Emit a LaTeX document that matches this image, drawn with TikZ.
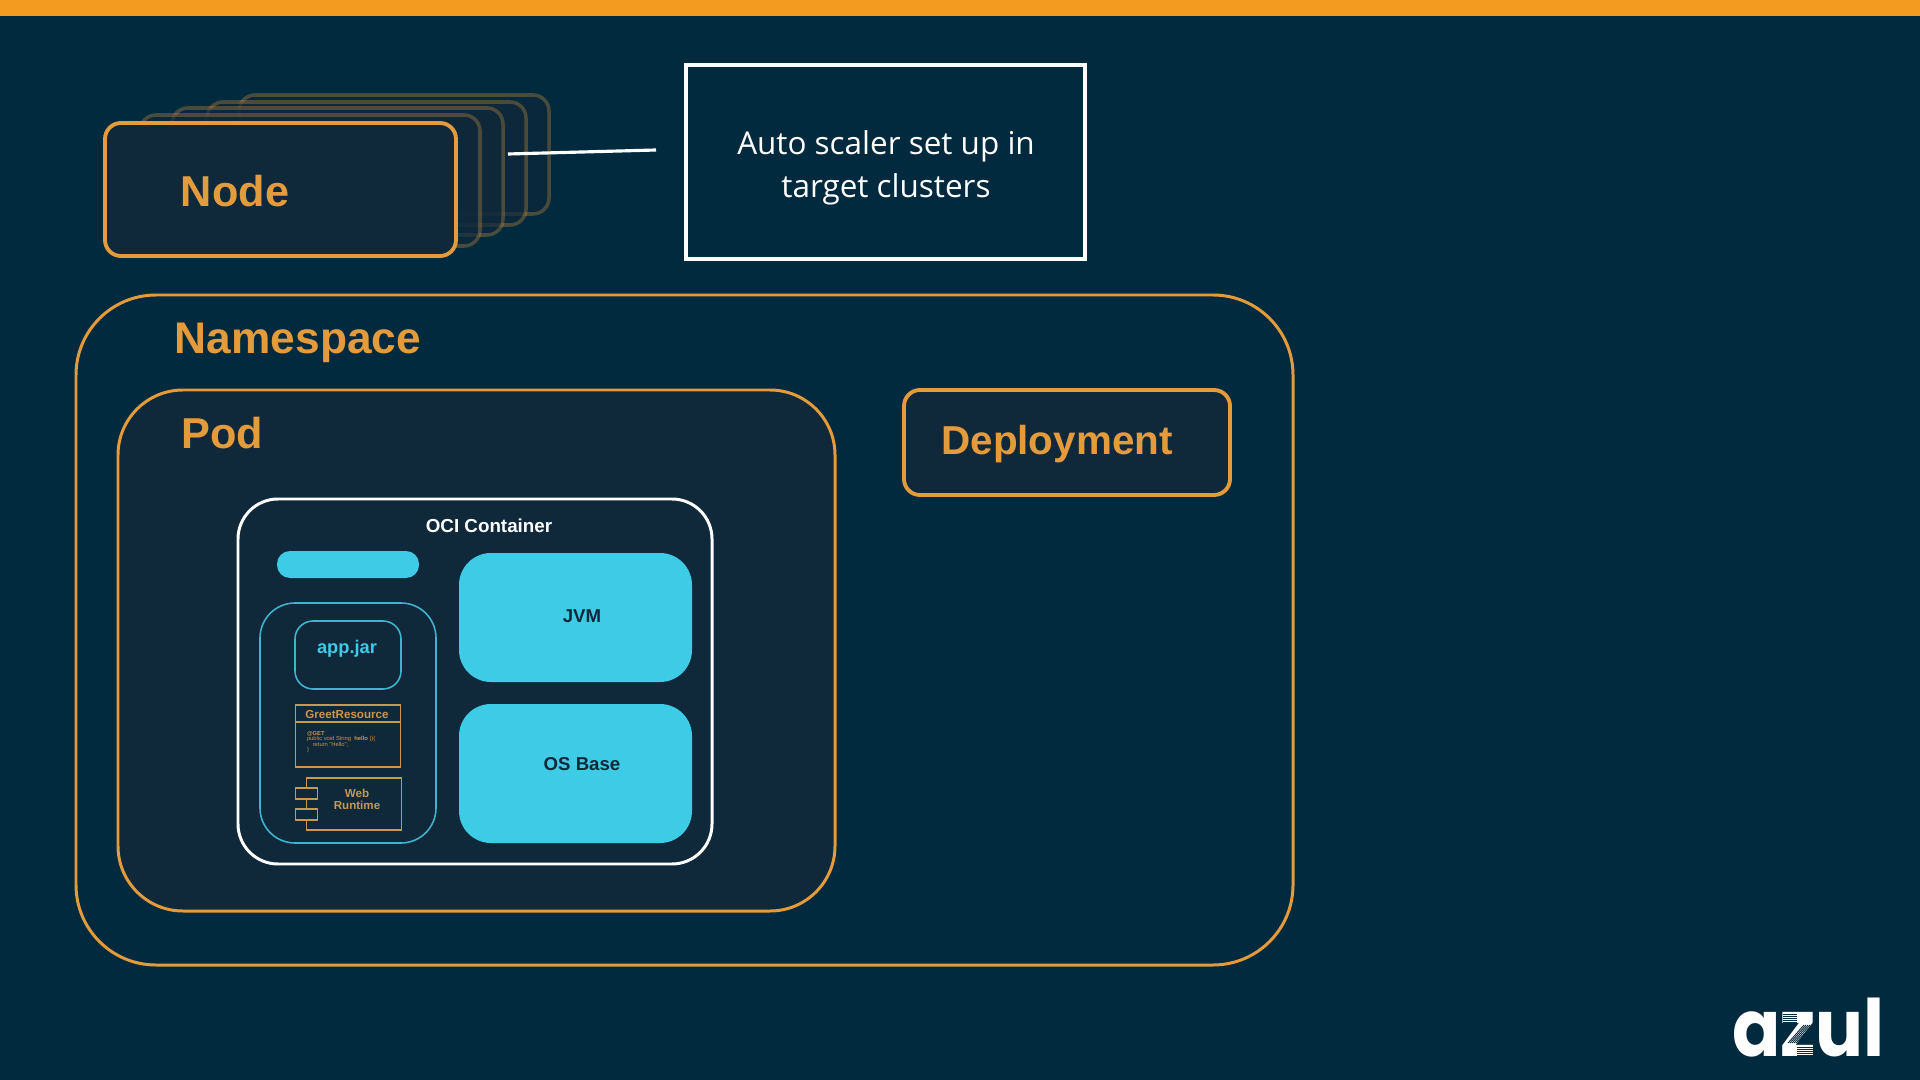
\documentclass[tikz,border=0pt]{standalone}
\usepackage{fontspec}
\usepackage{xcolor}
\setmainfont{Liberation Sans}
\newfontfamily\scalerfont{Open Sans}
\newfontfamily\logofont{Poppins}
\usetikzlibrary{positioning}
\definecolor{bgblue}{HTML}{022A3E}
\definecolor{podblue}{HTML}{0F283A}
\definecolor{barorange}{HTML}{F29B20}
\definecolor{azulorange}{HTML}{E39B3C}
\definecolor{thinorange}{HTML}{C9974F}
\definecolor{azulcyan}{HTML}{3DCBE6}
\definecolor{jarcyan}{HTML}{3FB4CE}

\begin{document}
\begin{tikzpicture}[
    outer sep=0pt,
    inner sep=0pt,
    nodebox/.style={
        rectangle,
        draw=azulorange,
        fill=podblue,
        line width=1.1pt,
        rounded corners=0.16cm
    },
    stackbox/.style={
        rectangle,
        draw=azulorange,
        draw opacity=0.3,
        fill=podblue,
        fill opacity=0.65,
        line width=1pt,
        rounded corners=0.16cm
    },
    scalerbox/.style={
        rectangle,
        draw=white,
        line width=0.9pt,
        minimum width=3.99cm,
        minimum height=1.94cm
    },
    nsbox/.style={
        rectangle,
        draw=azulorange,
        line width=0.85pt,
        rounded corners=0.8cm
    },
    whitebox/.style={
        rectangle,
        draw=white,
        fill=podblue,
        line width=0.85pt,
        rounded corners=0.4cm
    },
    cyanbox/.style={
        rectangle,
        fill=azulcyan,
        minimum width=2.33cm,
        rounded corners=0.32cm
    },
    cyanlabel/.style={text=podblue, font=\bfseries\fontsize{5.3}{6.4}\selectfont},
    jarbox/.style={
        rectangle,
        draw=jarcyan,
        line width=0.45pt
    },
    umlbox/.style={
        rectangle,
        draw=thinorange,
        line width=0.45pt
    },
    umllabel/.style={
        align=center,
        text=thinorange,
        font=\bfseries\fontsize{3.3}{3.45}\selectfont
    },
    bigtitle/.style={text=azulorange, font=\bfseries\fontsize{12.3}{14}\selectfont},
    arrow/.style={draw=white, line width=0.9pt},
    stripe/.style={draw=bgblue, line width=0.25pt}
]
    \useasboundingbox (0,0) rectangle (19.2,-10.8);
    \fill[bgblue] (0,0) rectangle (19.2,-10.8);
    \fill[barorange] (0,0) rectangle (19.2,-0.16);

    % Node stack
    \node[stackbox, minimum width=3.1cm, minimum height=1.19cm, anchor=north west] (stack4) at (2.39,-0.95) {};
    \node[stackbox, minimum width=3.19cm, minimum height=1.23cm, anchor=north west] (stack3) at (2.07,-1.02) {};
    \node[stackbox, minimum width=3.31cm, minimum height=1.27cm, anchor=north west] (stack2) at (1.72,-1.08) {};
    \node[stackbox, minimum width=3.4cm, minimum height=1.31cm, anchor=north west] (stack1) at (1.4,-1.15) {};
    \node[nodebox, minimum width=3.51cm, minimum height=1.33cm, anchor=north west] (node) at (1.05,-1.23) {};
    \node[bigtitle] (nodelabel) at (2.35,-1.91) {Node};

    % Auto scaler
    \node[scalerbox, anchor=north west] (scaler) at (6.86,-0.65) {};
    \node[align=center, text=white, font=\scalerfont\fontsize{8.95}{12.2}\selectfont] (scalerlabel)
        at (8.86,-1.68) {Auto scaler set up in\\target clusters};
    \coordinate (linestart) at (5.08,-1.54);
    \coordinate (lineend) at (6.56,-1.5);
    \draw[arrow] (linestart) -- (lineend);

    % Namespace
    \node[nsbox, minimum width=12.17cm, minimum height=6.7cm, anchor=north west] (namespace) at (0.76,-2.95) {};
    \node[bigtitle, font=\bfseries\fontsize{12.6}{14}\selectfont] (nslabel) at (2.98,-3.43) {Namespace};

    % Pod
    \node[nsbox, fill=podblue, rounded corners=0.65cm, minimum width=7.17cm, minimum height=5.21cm,
        below right=0.95cm and 0.42cm of namespace.north west] (pod) {};
    \node[bigtitle] (podlabel) at (2.22,-4.33) {Pod};

    % Deployment
    \node[nodebox, minimum width=3.26cm, minimum height=1.05cm,
        below right=0cm and 0.69cm of pod.north east] (deployment) {};
    \node[bigtitle, font=\bfseries\fontsize{11.5}{14}\selectfont] (deploylabel) at (10.57,-4.44) {Deployment};

    % OCI container
    \node[whitebox, minimum width=4.74cm, minimum height=3.65cm,
        below right=1.09cm and 1.2cm of pod.north west] (oci) {};
    \node[text=white, font=\bfseries\fontsize{5.35}{6.5}\selectfont] (ocilabel) at (4.89,-5.26) {OCI Container};

    % Cyan blocks
    \node[cyanbox, minimum height=1.29cm, below right=0.54cm and 2.21cm of oci.north west] (jvm) {};
    \node[cyanbox, minimum height=1.39cm, below=0.22cm of jvm] (osbase) {};
    \node[cyanlabel] (jvmlabel) at (5.82,-6.16) {JVM};
    \node[cyanlabel] (oslabel) at (5.82,-7.64) {OS Base};
    \node[rectangle, fill=azulcyan, minimum width=1.42cm, minimum height=0.27cm, rounded corners=0.13cm,
        below right=0.52cm and 0.39cm of oci.north west] (pill) {};

    % App jar
    \node[jarbox, rounded corners=0.35cm, minimum width=1.76cm, minimum height=2.4cm,
        below right=1.04cm and 0.22cm of oci.north west] (jarouter) {};
    \node[jarbox, rounded corners=0.18cm, minimum width=1.06cm, minimum height=0.68cm,
        below right=0.18cm and 0.35cm of jarouter.north west] (jarinner) {};
    \node[text=azulcyan, font=\bfseries\fontsize{5.2}{6}\selectfont] (jarlabel) at (3.47,-6.49) {app.jar};

    % Greet resource
    \node[umlbox, minimum width=1.05cm, minimum height=0.17cm,
        below=0.16cm of jarinner] (greethead) {};
    \node[umllabel] (greetlabel) at (3.47,-7.145) {GreetResource};
    \node[umlbox, minimum width=1.05cm, minimum height=0.45cm, below=0cm of greethead] (greetbody) {};
    \node[text=thinorange, align=left, font=\fontsize{1.65}{1.6}\selectfont, anchor=north west] (greetcode)
        at (3.07,-7.31) {\textbf{@GET}\\public void String \ \textbf{hello} ()\{\\\hspace*{1em}return "Hello";\\\}};

    % Web runtime
    \node[umlbox, minimum width=0.95cm, minimum height=0.52cm,
        below right=0.11cm and 0.11cm of greetbody.south west] (runtime) {};
    \node[umlbox, fill=podblue, minimum width=0.22cm, minimum height=0.11cm,
        below right=0.1cm and -0.11cm of runtime.north west] (port1) {};
    \node[umlbox, fill=podblue, minimum width=0.22cm, minimum height=0.11cm, below=0.1cm of port1] (port2) {};
    \node[umllabel] (runtimelabel) at (3.57,-7.99) {Web\\Runtime};

    % Logo
    \node[text=white, font=\logofont\bfseries\fontsize{22.5}{26}\selectfont, anchor=base, xscale=0.9, transform shape]
        (logo) at (18.085,-10.56) {azul};
    \foreach \y in {10.14,10.16,10.18,10.20,10.22}
        \draw[stripe] (17.83,-\y) -- (17.97,-\y);
    \foreach \y in {10.47,10.49,10.51,10.53,10.55}
        \draw[stripe] (17.97,-\y) -- (18.14,-\y);
    \foreach \d in {0,0.02,0.04,0.06,0.08,0.1}
        \draw[stripe] (18.14-\d,-10.25) -- (17.98-\d,-10.43);
\end{tikzpicture}
\end{document}
